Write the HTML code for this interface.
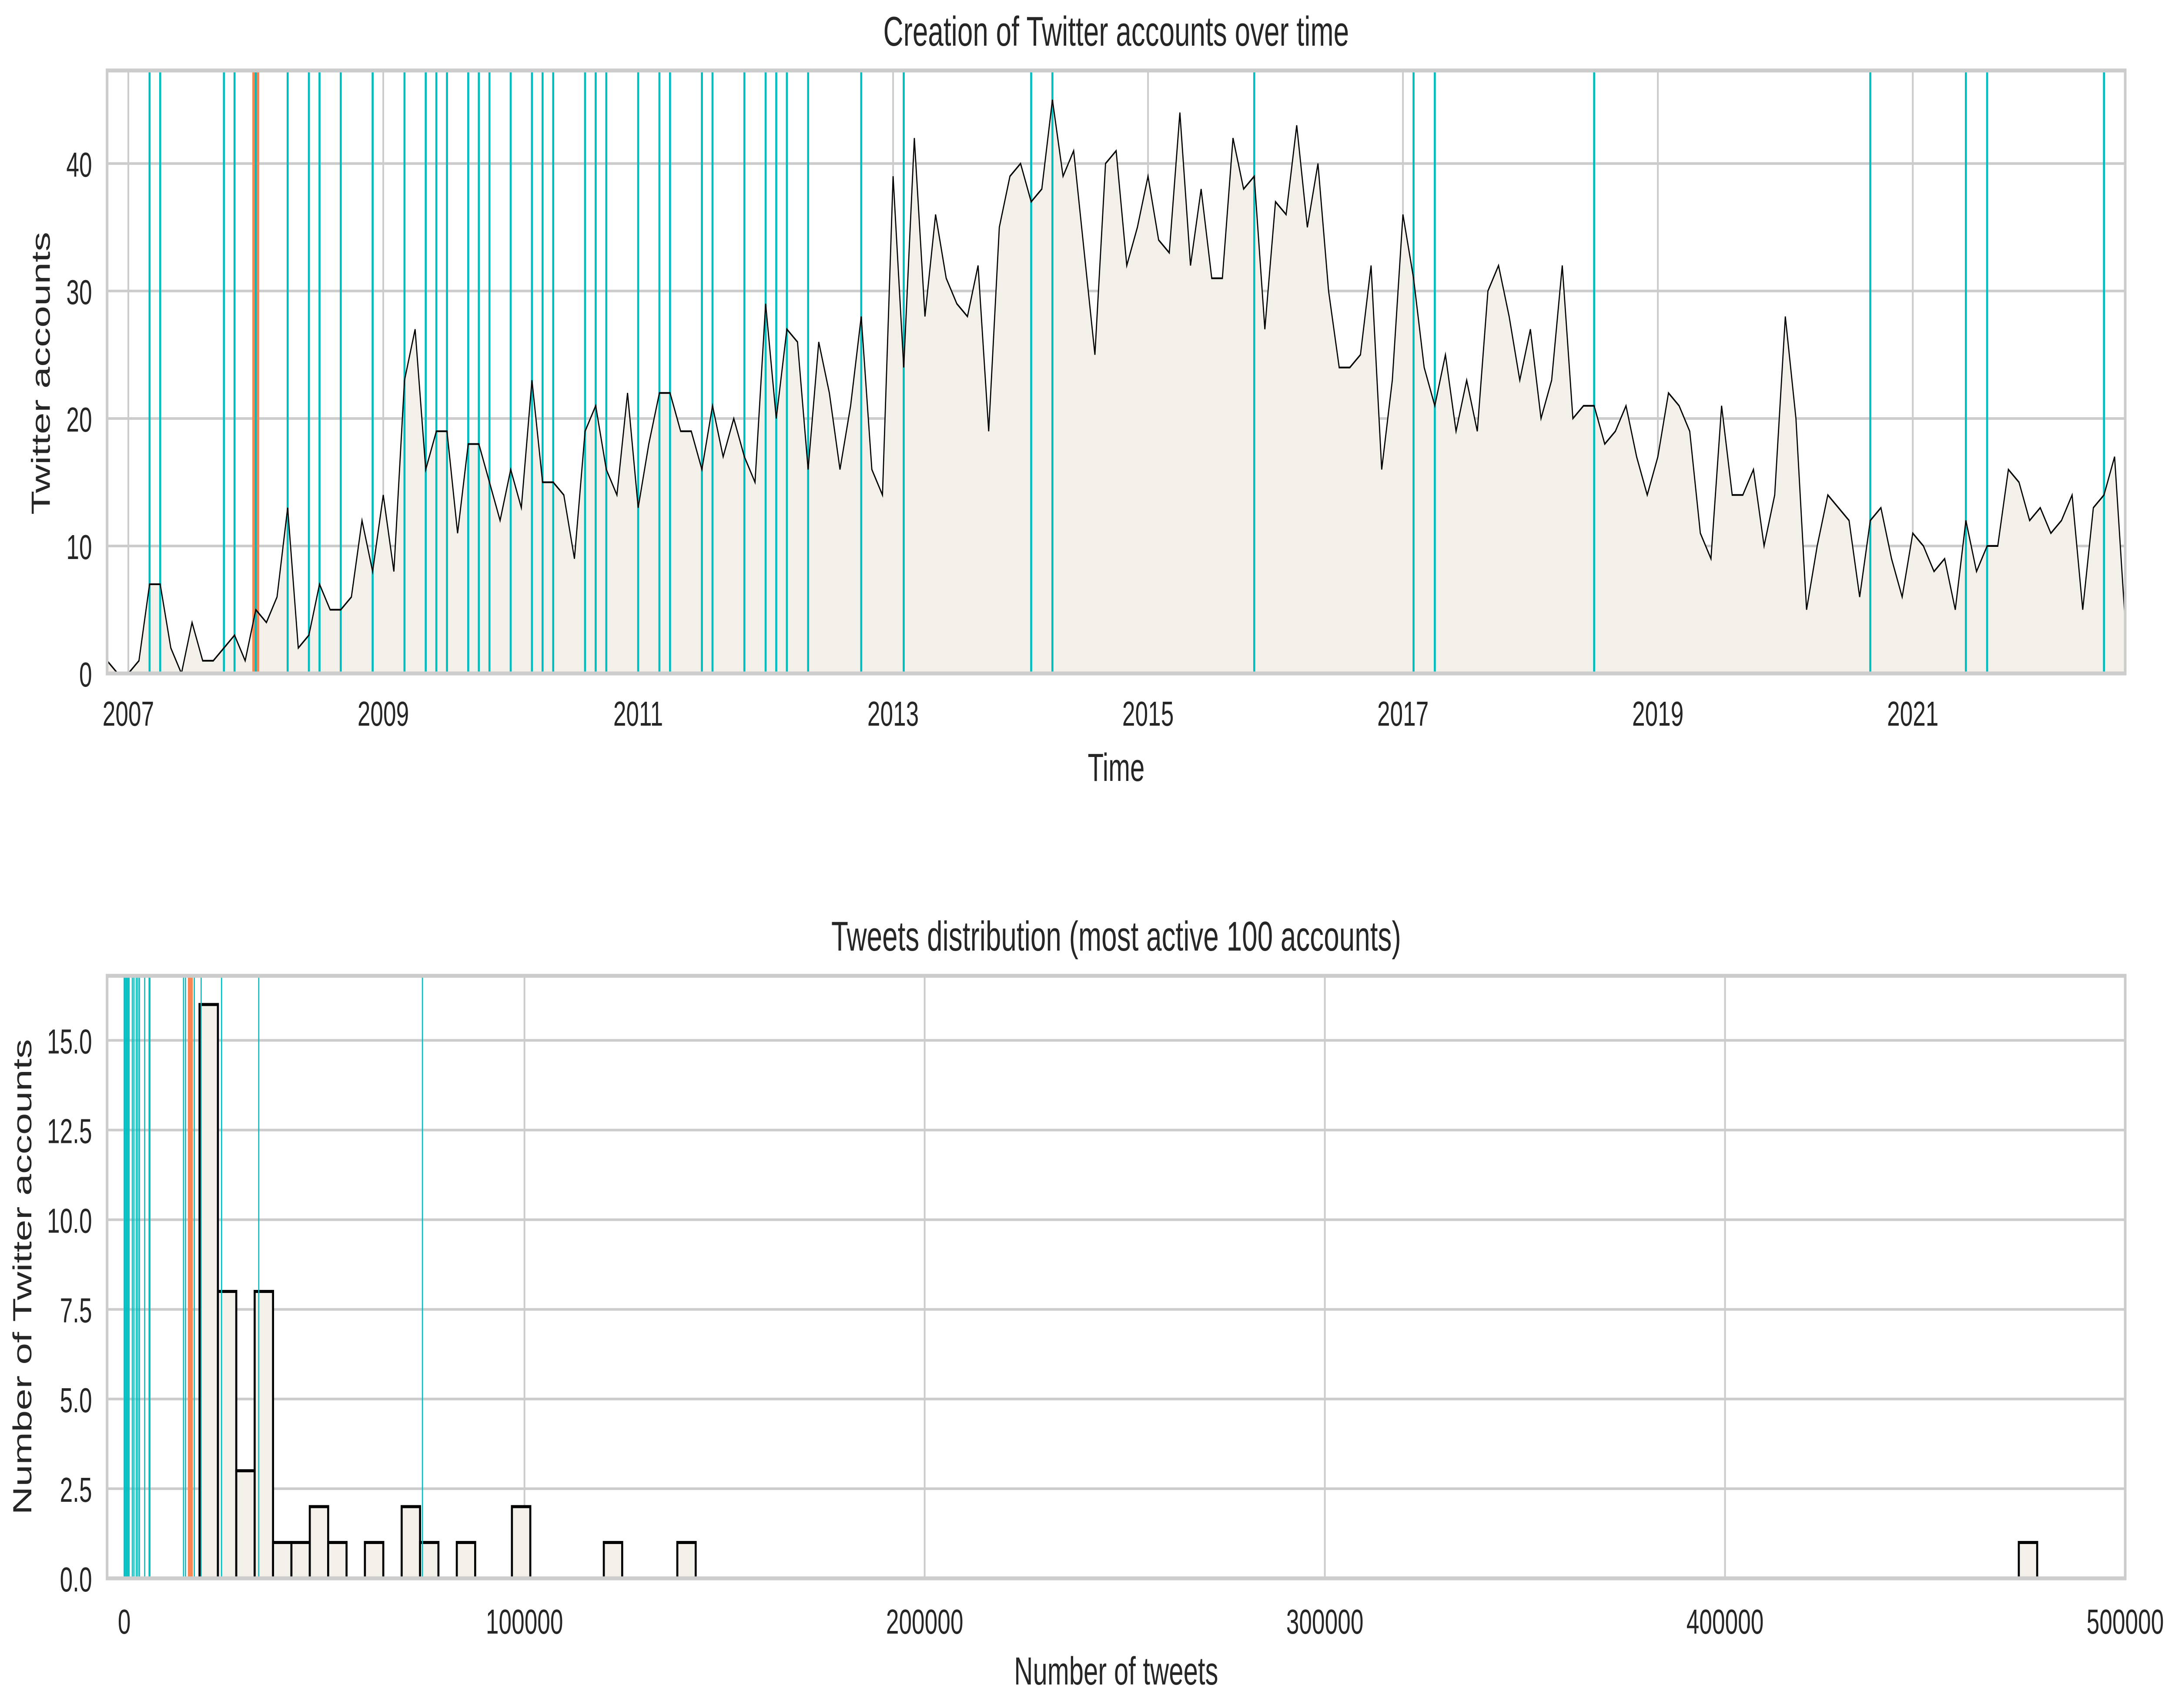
<!DOCTYPE html>
<html><head><meta charset="utf-8"><style>
html,body{margin:0;padding:0;background:#fff;width:100%;height:100%;overflow:hidden;}
svg{display:block;width:100vw;height:100vh;}
text{font-family:"Liberation Sans",sans-serif;fill:#262626;}
</style></head><body>
<svg id="chart" viewBox="0 0 7515 3926" preserveAspectRatio="none" xmlns="http://www.w3.org/2000/svg">
<g id="topchart"></g>
<g id="bottomchart"></g>
</svg>
<script>
// ---- Top chart data (monthly, starting Nov 2006) ----
const startYear = 2006, startMonth = 10; // Nov 2006 (0-based month)
const monthlyAccounts = [1,0,0,1,7,7,2,0,4,1,1,2,3,1,
5,4,6,13,2,3,7,5,5,6,12,8,
14,8,23,27,16,19,19,11,18,18,15,12,
16,13,23,15,15,14,9,19,21,16,14,22,
13,18,22,22,19,19,16,21,17,20,17,15,
29,20,27,26,16,26,22,16,21,28,16,14,
39,24,42,28,36,31,29,28,32,19,35,39,
40,37,38,45,39,41,33,25,40,41,32,35,
39,34,33,44,32,38,31,31,42,38,39,27,
37,36,43,35,40,30,24,24,25,32,16,23,
36,31,24,21,25,19,23,19,30,32,28,23,
27,20,23,32,20,21,21,18,19,21,17,14,
17,22,21,19,11,9,21,14,14,16,10,14,
28,20,5,10,14,13,12,6,12,13,9,6,
11,10,8,9,5,12,8,10,10,16,15,12,
13,11,12,14,5,13,14,17,4];
const highlightMonths = [4,5,11,12,14,17,19,20,22,25,28,30,31,32,34,35,36,38,40,41,42,45,46,47,50,52,53,56,57,60,62,63,64,66,71,75,87,89,108,123,125,140,166,175,177,188];
const selectedMonth = 14;
const topYTicks = [0,10,20,30,40];
const topXTickYears = [2007,2009,2011,2013,2015,2017,2019,2021];

// ---- Bottom chart data ----
const histMin = 18800, histMax = 478000;
const histCounts = [16,8,3,8,1,1,2,1,0,1,0,2,1,0,1,0,0,2,0,0,0,0,1,0,0,0,1].concat(new Array(72).fill(0)).concat([1]);
const highlightTweets = [0,300,600,900,1200,2000,2400,3000,3400,3800,5100,6200,6400,14800,15300,17500,19200,24300,33600,74500];
const selectedTweets = 16500;
const bottomYTicks = [0,2.5,5,7.5,10,12.5,15];
const bottomYTickLabels = ["0.0","2.5","5.0","7.5","10.0","12.5","15.0"];
const bottomXTicks = [0,100000,200000,300000,400000,500000];

const NS = "http://www.w3.org/2000/svg";
function mk(parent, tag, attrs){ const e=document.createElementNS(NS,tag); for(const k in attrs) e.setAttribute(k,attrs[k]); parent.appendChild(e); return e; }
const CY="#00bec0", OR="#f98650", GRID="#cccccc", FILL="#f2f0e9";

// ===== TOP =====
const topG = document.getElementById('topchart');
const T = {l:370,r:7343,t:162,b:1548};
const nMonths = monthlyAccounts.length-1;
const tx = i => T.l + i*(T.r-T.l)/nMonths;
const tyMax = 47.3;
const ty = v => T.b - v*(T.b-T.t)/tyMax;
const monthIdxOfYear = y => (y-startYear)*12 - startMonth;

topYTicks.forEach(v=>{
  const g=mk(topG,'line',{x1:T.l,x2:T.r,y1:ty(v),y2:ty(v),stroke:GRID,'stroke-width':6});
  
  
  const t=mk(topG,'text',{x:318,y:ty(v)+30,'text-anchor':'end','font-size':80});
  t.textContent=v;
  
  
});
topXTickYears.forEach(y=>{
  const x=tx(monthIdxOfYear(y));
  const g=mk(topG,'line',{x1:x,x2:x,y1:T.t,y2:T.b,stroke:GRID,'stroke-width':6});
  
  
  const t=mk(topG,'text',{x:x,y:1668,'text-anchor':'middle','font-size':80});
  t.textContent=y;
  
  
});
let d='M'+tx(0)+','+ty(0);
monthlyAccounts.forEach((v,i)=>{ d+=' L'+tx(i).toFixed(1)+','+ty(v).toFixed(1); });
d+=' L'+tx(nMonths)+','+ty(0)+' Z';
const area=mk(topG,'path',{d:d,fill:FILL});


const so=mk(topG,'line',{x1:tx(selectedMonth),x2:tx(selectedMonth),y1:T.t,y2:T.b,stroke:OR,'stroke-width':24});


highlightMonths.forEach(i=>{
  const l=mk(topG,'line',{x1:tx(i),x2:tx(i),y1:T.t,y2:T.b,stroke:CY,'stroke-width':7});
  
  
});
let pd='';
monthlyAccounts.forEach((v,i)=>{ pd+=(i?' L':'M')+tx(i).toFixed(1)+','+ty(v).toFixed(1); });
const line=mk(topG,'path',{d:pd,fill:'none',stroke:'#000','stroke-width':4,'stroke-linejoin':'miter'});


const fr=mk(topG,'rect',{x:T.l,y:T.t,width:T.r-T.l,height:T.b-T.t,fill:'none',stroke:GRID,'stroke-width':9});


let tt=mk(topG,'text',{x:(T.l+T.r)/2,y:105,'text-anchor':'middle','font-size':96});
tt.textContent='Creation of Twitter accounts over time';


tt=mk(topG,'text',{x:(T.l+T.r)/2,y:1795,'text-anchor':'middle','font-size':90});
tt.textContent='Time';


tt=mk(topG,'text',{x:0,y:0,'text-anchor':'middle','font-size':90,transform:'translate(172,858) rotate(-90)'});
tt.textContent='Twitter accounts';



// ===== BOTTOM =====
const botG = document.getElementById('bottomchart');
const B = {l:370,r:7343,t:2243,b:3628};
const bxMin = -4300, bxMax = 500000, byMax = 16.8;
const bx = v => B.l + (v-bxMin)*(B.r-B.l)/(bxMax-bxMin);
const by = v => B.b - v*(B.b-B.t)/byMax;
bottomYTicks.forEach((v,i)=>{
  const g=mk(botG,'line',{x1:B.l,x2:B.r,y1:by(v),y2:by(v),stroke:GRID,'stroke-width':6});
  
  
  const t=mk(botG,'text',{x:318,y:by(v)+30,'text-anchor':'end','font-size':80});
  t.textContent=bottomYTickLabels[i];
  
  
});
bottomXTicks.forEach(v=>{
  const x=bx(v);
  const g=mk(botG,'line',{x1:x,x2:x,y1:B.t,y2:B.b,stroke:GRID,'stroke-width':6});
  
  
  const t=mk(botG,'text',{x:x,y:3755,'text-anchor':'middle','font-size':80});
  t.textContent=v;
  
  
});
const binW = (histMax-histMin)/histCounts.length;
histCounts.forEach((c,i)=>{
  if(!c) return;
  const x0=bx(histMin+i*binW), x1=bx(histMin+(i+1)*binW);
  const r=mk(botG,'rect',{x:x0,y:by(c),width:x1-x0,height:by(0)-by(c),fill:FILL,stroke:'#000','stroke-width':7});
  
  
});
const so2=mk(botG,'line',{x1:bx(selectedTweets),x2:bx(selectedTweets),y1:B.t,y2:B.b,stroke:OR,'stroke-width':17});


highlightTweets.forEach(v=>{
  const l=mk(botG,'line',{x1:bx(v),x2:bx(v),y1:B.t,y2:B.b,stroke:CY,'stroke-width':4});
  
  
});
const fr2=mk(botG,'rect',{x:B.l,y:B.t,width:B.r-B.l,height:B.b-B.t,fill:'none',stroke:GRID,'stroke-width':9});


tt=mk(botG,'text',{x:(B.l+B.r)/2,y:2185,'text-anchor':'middle','font-size':96});
tt.textContent='Tweets distribution (most active 100 accounts)';


tt=mk(botG,'text',{x:(B.l+B.r)/2,y:3872,'text-anchor':'middle','font-size':90});
tt.textContent='Number of tweets';


tt=mk(botG,'text',{x:0,y:0,'text-anchor':'middle','font-size':90,transform:'translate(108,2935) rotate(-90)'});
tt.textContent='Number of Twitter accounts';


</script>
</body></html>
